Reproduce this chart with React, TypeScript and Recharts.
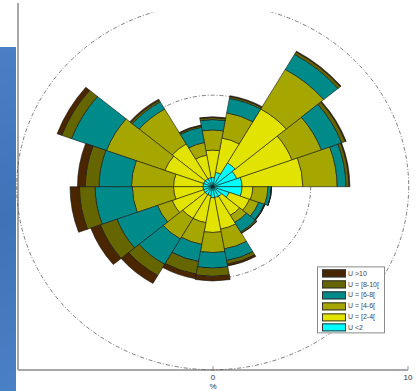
import {
  RadialBarChart,
  RadialBar,
  PolarAngleAxis,
  PolarRadiusAxis,
  PolarGrid,
  Legend,
  LineChart,
  XAxis,
  YAxis,
} from 'recharts';

// sector centres (deg, counter-clockwise from East), each sector 20° wide
const angles = [10, 30, 50, 70, 90, 110, 130, 150, 170, 190, 210, 230, 250, 270, 290, 310, 330, 350];

// frequency (%) of each speed class per sector
const uLt2 = [1.5, 1.3, 1.5, 0.8, 0.5, 0.5, 0.5, 0.5, 0.5, 0.5, 0.5, 0.5, 0.5, 0.6, 0.6, 0.6, 0.9, 1.5];
const u2to4 = [3.1, 3.0, 3.4, 1.9, 1.5, 1.25, 2.2, 2.1, 1.5, 1.5, 1.7, 1.5, 1.5, 1.9, 1.75, 1.2, 1.1, 0.55];
const u4to6 = [1.75, 1.6, 2.5, 1.4, 1.1, 0.7, 2.2, 3.17, 2.15, 2.1, 0.8, 1.3, 1.2, 1.1, 1.1, 0.45, 0.5, 0.77];
const u6to8 = [0.45, 1.1, 0.95, 0.8, 0.57, 0.85, 0.45, 1.9, 1.65, 1.9, 2.2, 1.6, 0.95, 0.85, 0.65, 0.6, 0.3, 0.18];
const u8to10 = [0.15, 0.2, 0.15, 0.1, 0.11, 0.08, 0.1, 0.53, 0.7, 0.8, 0.9, 0.7, 0.7, 0.45, 0.2, 0.07, 0.03, 0];
const uGt10 = [0.05, 0.05, 0.05, 0.05, 0.04, 0.04, 0.07, 0.25, 0.4, 0.48, 0.52, 0.5, 0.25, 0.25, 0.1, 0.03, 0.02, 0];

const binKeys = ['lt2', 'b2', 'b4', 'b6', 'b8', 'gt10'];
const binNames = ['U <2', 'U = [2-4[', 'U = [4-6[', 'U = [6-8[', 'U = [8-10[', 'U >10'];
const binColors = ['#00ffff', '#e3e300', '#a6a600', '#008b8b', '#666600', '#4a2600'];

const axisTicks = [0, 10];
const gridLevels = [5, 10];

const data = angles.map((angle, i) => ({
  angle,
  lt2: uLt2[i],
  b2: u2to4[i],
  b4: u4to6[i],
  b6: u6to8[i],
  b8: u8to10[i],
  gt10: uGt10[i],
}));

const axisData = [{ x: -10 }, { x: 10 }];

const CX = 212.7;
const CY = 186.7;
const R = 196;
const SY = 0.934; // axes are not equal aspect: y squashed
const FONT = '"Liberation Sans", Arial, sans-serif';

function SpeedLegend() {
  const rows = binNames.map((n, i) => ({ n, c: binColors[i] })).reverse();
  return (
    <div
      style={{
        width: 68,
        height: 67,
        boxSizing: 'border-box',
        border: '1px solid #8a8a8a',
        background: '#fff',
        padding: '1px 0 0 4px',
        fontFamily: FONT,
      }}
    >
      {rows.map((r) => (
        <div key={r.n} style={{ display: 'flex', alignItems: 'center', height: 10.8 }}>
          <div
            style={{
              width: 24,
              height: 8,
              flexShrink: 0,
              boxSizing: 'border-box',
              background: r.c,
              border: '1px solid #333',
            }}
          />
          <span style={{ fontSize: 7, color: '#444', marginLeft: 2, whiteSpace: 'nowrap' }}>{r.n}</span>
        </div>
      ))}
    </div>
  );
}

function AxisTick(props: any) {
  const { x, y, payload } = props;
  return (
    <g>
      <line x1={x} x2={x} y1={y - 4} y2={y} stroke="#999" />
      <text x={x} y={y + 10} textAnchor="middle" fontSize={8} fontFamily={FONT} fill="#333">
        {payload.value}
      </text>
    </g>
  );
}

export default function App() {
  return (
    <div style={{ position: 'absolute', left: 0, top: 0, width: 420, height: 391, background: '#fff', overflow: 'hidden' }}>
      <div
        style={{
          position: 'absolute',
          left: 0,
          top: 47,
          width: 16,
          height: 344,
          background: 'linear-gradient(160deg, #4a7fc6 0%, #3f73b8 50%, #4a80c5 100%)',
        }}
      />
      <div style={{ position: 'absolute', left: 0, top: 0 }}>
        <LineChart width={420} height={391} data={axisData} margin={{ top: 3, right: 12, bottom: 0, left: 16 }}>
          <XAxis
            type="number"
            dataKey="x"
            domain={[-10, 10]}
            ticks={axisTicks}
            height={21}
            tickSize={0}
            tickMargin={0}
            tickLine={false}
            axisLine={{ stroke: '#a8a8a8', strokeWidth: 2 }}
            tick={<AxisTick />}
            label={{ value: '%', position: 'insideBottom', offset: 2, fontSize: 8, fill: '#333', fontFamily: FONT }}
          />
          <YAxis
            type="number"
            domain={[-10, 10]}
            width={2}
            tick={false}
            tickLine={false}
            axisLine={{ stroke: '#a8a8a8', strokeWidth: 2 }}
          />
        </LineChart>
      </div>
      <div
        style={{
          position: 'absolute',
          left: 0,
          top: 0,
          width: 420,
          height: 391,
          transform: `scaleY(${SY})`,
          transformOrigin: `${CX}px ${CY}px`,
        }}
      >
        <RadialBarChart
          width={420}
          height={391}
          data={data}
          layout="centric"
          cx={CX}
          cy={CY}
          innerRadius={0}
          outerRadius={R}
          startAngle={0}
          endAngle={360}
          barCategoryGap={0}
          margin={{ top: 0, right: 0, bottom: 0, left: 0 }}
        >
          <PolarAngleAxis type="number" dataKey="angle" domain={[0, 360]} tick={false} tickLine={false} axisLine={false} />
          <PolarRadiusAxis type="number" domain={[0, 10]} tick={false} tickLine={false} axisLine={false} />
          {binKeys.map((k, i) => (
            <RadialBar
              key={k}
              dataKey={k}
              name={binNames[i]}
              stackId="u"
              fill={binColors[i]}
              stroke="#111"
              strokeWidth={0.6}
              isAnimationActive={false}
            />
          ))}
          <PolarGrid
            cx={CX}
            cy={CY}
            innerRadius={0}
            outerRadius={R}
            gridType="circle"
            radialLines={false}
            polarRadius={gridLevels.map((g) => (g / 10) * R)}
            stroke="#555"
            strokeWidth={0.8}
            strokeDasharray="4 2 1 2"
            fill="none"
          />
          <Legend
            layout="vertical"
            align="center"
            verticalAlign="middle"
            content={<SpeedLegend />}
            wrapperStyle={{
              left: 317,
              top: CY + (266 - CY) / SY,
              width: 68,
              height: 67,
              transform: `scaleY(${1 / SY})`,
              transformOrigin: '0 0',
            }}
          />
        </RadialBarChart>
      </div>
    </div>
  );
}
